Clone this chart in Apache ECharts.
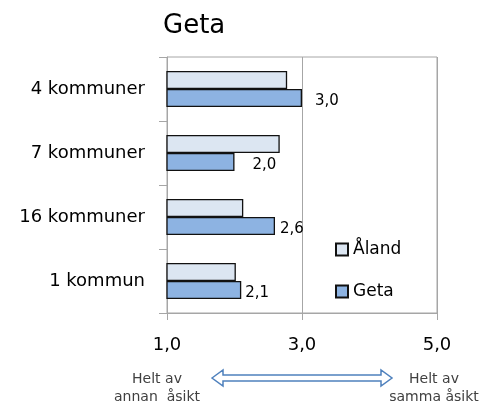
<!DOCTYPE html>
<html><head><meta charset="utf-8">
<script src="https://cdn.jsdelivr.net/npm/echarts@6/dist/echarts.min.js"></script>
<style>html,body{margin:0;padding:0;background:#fff}#c{width:483px;height:410px}</style>
</head><body><div id="c"></div>
<script>
const categories = ['4 kommuner', '7 kommuner', '16 kommuner', '1 kommun'];
const alandValues = [2.78, 2.67, 2.13, 2.02];
const getaValues = [3.0, 2.0, 2.6, 2.1];
const xTicks = [1, 3, 5];
const seriesNames = ['Åland', 'Geta'];

// label spacing (style only)
const getaLabelDistances = [13, 18, 5, 4];

const FONT = '"DejaVu Sans", sans-serif';
const comma = v => v.toFixed(1).replace('.', ',');
const chart = echarts.init(document.getElementById('c'), null, {renderer: 'canvas'});
const gray = '#a6a6a6';
chart.setOption({
  animation: false,
  textStyle: {fontFamily: FONT},
  title: {text: 'Geta', left: 158, top: 8, textStyle: {fontSize: 26, fontWeight: 'normal', color: '#000', fontFamily: FONT}},
  grid: {left: 167, right: 46, top: 57, bottom: 97, show: true, borderColor: gray, borderWidth: 1, backgroundColor: 'transparent'},
  legend: {
    orient: 'vertical', left: 330, top: 236, itemWidth: 12, itemHeight: 12, itemGap: 25,
    icon: 'rect',
    textStyle: {fontSize: 17, color: '#000', fontFamily: FONT},
    data: seriesNames
  },
  xAxis: {
    type: 'value', min: xTicks[0], max: xTicks[xTicks.length - 1], interval: xTicks[1] - xTicks[0],
    axisLine: {show: true, lineStyle: {color: gray}},
    axisTick: {show: true, length: 7, lineStyle: {color: gray}},
    splitLine: {show: true, lineStyle: {color: gray}},
    axisLabel: {fontSize: 18, color: '#000', margin: 23, formatter: comma}
  },
  yAxis: {
    type: 'category', data: categories, inverse: true,
    axisLine: {show: true, lineStyle: {color: gray}},
    axisTick: {show: true, length: 8, lineStyle: {color: gray}},
    axisLabel: {fontSize: 18, color: '#000', margin: 22}
  },
  series: [
    {name: seriesNames[0], type: 'bar', data: alandValues, barWidth: 18, barGap: '0%',
     itemStyle: {color: '#dce6f2', borderColor: '#111', borderWidth: 1.3}},
    {name: seriesNames[1], type: 'bar', barWidth: 18, barGap: '0%',
     data: getaValues.map((v, i) => ({value: v, label: {distance: getaLabelDistances[i]}})),
     itemStyle: {color: '#8db3e2', borderColor: '#111', borderWidth: 1.3},
     label: {show: true, position: 'right', offset: [0, 3], fontSize: 15, color: '#000', formatter: p => comma(p.value)}}
  ],
  graphic: [
    {type: 'text', style: {text: 'Helt av\nannan  åsikt', x: 157, y: 370, align: 'center', fontSize: 14, lineHeight: 18, fill: '#404040', fontFamily: FONT}},
    {type: 'text', style: {text: 'Helt av\nsamma åsikt', x: 434, y: 370, align: 'center', fontSize: 14, lineHeight: 18, fill: '#404040', fontFamily: FONT}},
    {type: 'polygon', shape: {points: [[212,378],[223,370],[223,375],[381,375],[381,370],[392,378],[381,386],[381,381],[223,381],[223,386]]},
     style: {fill: '#fff', stroke: '#4f81bd', lineWidth: 1.5}}
  ]
});
</script></body></html>
